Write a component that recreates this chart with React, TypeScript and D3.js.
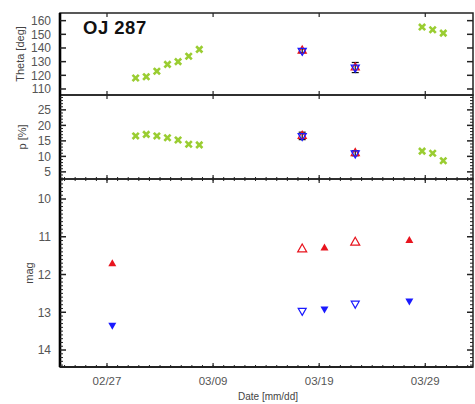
import React from "react";
import * as d3 from "d3";

// ---- data (x = days after 02/27) ----
const tickDays = [0, 10, 20, 30];
const tickLabels = ["02/27", "03/09", "03/19", "03/29"];

const greenDays = [2.7, 3.7, 4.7, 5.7, 6.7, 7.7, 8.7, 29.7, 30.7, 31.7];
const greenTheta = [118, 119, 123, 128, 130, 134, 139, 155.3, 153.3, 150.9];
const greenP = [16.6, 17.1, 16.6, 16.0, 15.3, 13.9, 13.7, 11.7, 11.0, 8.6];

const openDays = [18.4, 23.4];
const openTheta = [138, 125.7];
const openThetaErr = [1.5, 3.7];
const openP = [16.6, 11.0];
const openPErr = [1.2, 0.8];
const openMagR = [11.33, 11.15];
const openMagB = [12.96, 12.77];

const filledDays = [0.5, 20.5, 28.5];
const filledMagR = [11.72, 11.3, 11.1];
const filledMagB = [13.34, 12.91, 12.7];

const thetaTicks = [110, 120, 130, 140, 150, 160];
const pTicks = [5, 10, 15, 20, 25];
const magTicks = [10, 11, 12, 13, 14];

const L = 60, R = 473;
const P1 = [13, 95], P2 = [95, 179], P3 = [179, 367];

export default function App() {
  const x = d3.scaleLinear().domain([-4.43, 34.5]).range([L, R]);
  const yT = d3.scaleLinear().domain([105.6, 165.6]).range([P1[1], P1[0]]);
  const yP = d3.scaleLinear().domain([2.7, 29.8]).range([P2[1], P2[0]]);
  const yM = d3.scaleLinear().domain([9.47, 14.45]).range([P3[0], P3[1]]);

  const green = "#9acd32";
  const red = "#e8141e";
  const blue = "#1a1aff";
  const tickColor = "#222";
  const labelColor = "#555";
  const font = "Liberation Sans, Arial, sans-serif";

  const minorDays = d3.range(-4, 35, 1);

  const xTicks = (yTop: number, yBot: number, minorTop: boolean, minorBot: boolean, key: string) => (
    <g key={key}>
      {tickDays.map((d) => (
        <g key={d}>
          <line x1={x(d)} x2={x(d)} y1={yTop} y2={yTop + 4} stroke={tickColor} strokeWidth={1.2} />
          <line x1={x(d)} x2={x(d)} y1={yBot} y2={yBot - 4} stroke={tickColor} strokeWidth={1.2} />
        </g>
      ))}
      {minorDays.map((d) => (
        <g key={"m" + d}>
          {minorTop && <line x1={x(d)} x2={x(d)} y1={yTop} y2={yTop + 2} stroke={tickColor} strokeWidth={1} />}
          {minorBot && <line x1={x(d)} x2={x(d)} y1={yBot} y2={yBot - 2} stroke={tickColor} strokeWidth={1} />}
        </g>
      ))}
    </g>
  );

  const yTicks = (scale: any, ticks: number[], minors: number[], key: string) => (
    <g key={key}>
      {ticks.map((t) => (
        <g key={t}>
          <line x1={L} x2={L + 6} y1={scale(t)} y2={scale(t)} stroke={tickColor} strokeWidth={1.5} />
          <line x1={R} x2={R - 6} y1={scale(t)} y2={scale(t)} stroke={tickColor} strokeWidth={1.5} />
          <text x={L - 9} y={scale(t)} dy="0.36em" textAnchor="end" fontSize={12} fill={labelColor} fontFamily={font}>
            {t}
          </text>
        </g>
      ))}
      {minors.map((t) => (
        <g key={"m" + t}>
          <line x1={L} x2={L + 3} y1={scale(t)} y2={scale(t)} stroke={tickColor} strokeWidth={1} />
          <line x1={R} x2={R - 3} y1={scale(t)} y2={scale(t)} stroke={tickColor} strokeWidth={1} />
        </g>
      ))}
    </g>
  );

  const cross = (cx: number, cy: number, k: string) => (
    <g key={k} stroke={green} strokeWidth={2.6} strokeLinecap="square">
      <line x1={cx - 2.2} y1={cy - 2.2} x2={cx + 2.2} y2={cy + 2.2} />
      <line x1={cx - 2.2} y1={cy + 2.2} x2={cx + 2.2} y2={cy - 2.2} />
    </g>
  );

  const tri = (cx: number, cy: number, up: boolean, s: number) => {
    const h = s * 0.87;
    return up
      ? `M${cx},${cy - h * 0.66}L${cx + s / 2},${cy + h * 0.34}L${cx - s / 2},${cy + h * 0.34}Z`
      : `M${cx},${cy + h * 0.66}L${cx + s / 2},${cy - h * 0.34}L${cx - s / 2},${cy - h * 0.34}Z`;
  };

  const errBar = (cx: number, y1: number, y2: number, k: string) => (
    <g key={k} stroke="#111" strokeWidth={1.2}>
      <line x1={cx} x2={cx} y1={y1} y2={y2} />
      <line x1={cx - 3.5} x2={cx + 3.5} y1={y1} y2={y1} />
      <line x1={cx - 3.5} x2={cx + 3.5} y1={y2} y2={y2} />
    </g>
  );

  const star = (cx: number, cy: number, k: string) => (
    <g key={k} fill="none" strokeWidth={1.3}>
      <path d={tri(cx, cy, true, 8)} stroke={red} />
      <path d={tri(cx, cy, false, 8)} stroke={blue} />
    </g>
  );

  return (
    <svg width={475} height={404} style={{ position: "absolute", left: 0, top: 0, background: "#fff" }}>
      <rect width={475} height={404} fill="#fff" />
      {/* frames */}
      {[P1, P2, P3].map((p, i) => (
        <rect key={i} x={L} y={p[0]} width={R - L} height={p[1] - p[0]} fill="none" stroke="#222" strokeWidth={1.5} />
      ))}
      <line x1={L} x2={L} y1={P1[0]} y2={P3[1]} stroke="#000" strokeWidth={2.6} />
      <line x1={L} x2={R} y1={P3[1]} y2={P3[1]} stroke="#222" strokeWidth={2} />

      {xTicks(P1[0], P1[1], false, false, "x1")}
      {xTicks(P2[0], P2[1], false, true, "x2")}
      {xTicks(P3[0], P3[1], true, true, "x3")}

      {yTicks(yT, thetaTicks, [], "y1")}
      {yTicks(yP, pTicks, d3.range(3, 30, 1).filter((v) => v % 5 !== 0), "y2")}
      {yTicks(yM, magTicks, d3.range(9.5, 14.45, 0.1).map((v) => Math.round(v * 10) / 10).filter((v) => Math.abs(v - Math.round(v)) > 0.01), "y3")}

      {/* x labels */}
      {tickDays.map((d, i) => (
        <text key={d} x={x(d)} y={385} textAnchor="middle" fontSize={11.5} fill={labelColor} fontFamily={font}>
          {tickLabels[i]}
        </text>
      ))}
      <text x={268} y={400} textAnchor="middle" fontSize={10} fill="#444" fontFamily={font}>
        Date [mm/dd]
      </text>

      {/* y labels */}
      <text transform={`translate(24,${(P1[0] + P1[1]) / 2}) rotate(-90)`} textAnchor="middle" fontSize={11} fill="#444" fontFamily={font}>
        Theta [deg]
      </text>
      <text transform={`translate(26,${(P2[0] + P2[1]) / 2}) rotate(-90)`} textAnchor="middle" fontSize={11} fill="#444" fontFamily={font}>
        p [%]
      </text>
      <text transform={`translate(33,${(P3[0] + P3[1]) / 2}) rotate(-90)`} textAnchor="middle" fontSize={11} fill="#444" fontFamily={font}>
        mag
      </text>

      <text x={83} y={34} fontSize={18.5} fontWeight="bold" fill="#111" fontFamily={font} letterSpacing={0.5}>
        OJ 287
      </text>

      {/* panel 1 */}
      {greenDays.map((d, i) => cross(x(d), yT(greenTheta[i]), "g1" + i))}
      {openDays.map((d, i) => (
        <g key={"o1" + i}>
          {errBar(x(d), yT(openTheta[i] - openThetaErr[i]), yT(openTheta[i] + openThetaErr[i]), "e1" + i)}
          {star(x(d), yT(openTheta[i]), "s1" + i)}
        </g>
      ))}

      {/* panel 2 */}
      {greenDays.map((d, i) => cross(x(d), yP(greenP[i]), "g2" + i))}
      {openDays.map((d, i) => (
        <g key={"o2" + i}>
          {errBar(x(d), yP(openP[i] - openPErr[i]), yP(openP[i] + openPErr[i]), "e2" + i)}
          {star(x(d), yP(openP[i]), "s2" + i)}
        </g>
      ))}

      {/* panel 3 */}
      {filledDays.map((d, i) => (
        <g key={"f" + i}>
          <path d={tri(x(d), yM(filledMagR[i]), true, 8)} fill={red} />
          <path d={tri(x(d), yM(filledMagB[i]), false, 8)} fill={blue} />
        </g>
      ))}
      {openDays.map((d, i) => (
        <g key={"o3" + i} fill="none" strokeWidth={1.2}>
          <path d={tri(x(d), yM(openMagR[i]), true, 9)} stroke={red} />
          <path d={tri(x(d), yM(openMagB[i]), false, 8)} stroke={blue} />
        </g>
      ))}
    </svg>
  );
}
